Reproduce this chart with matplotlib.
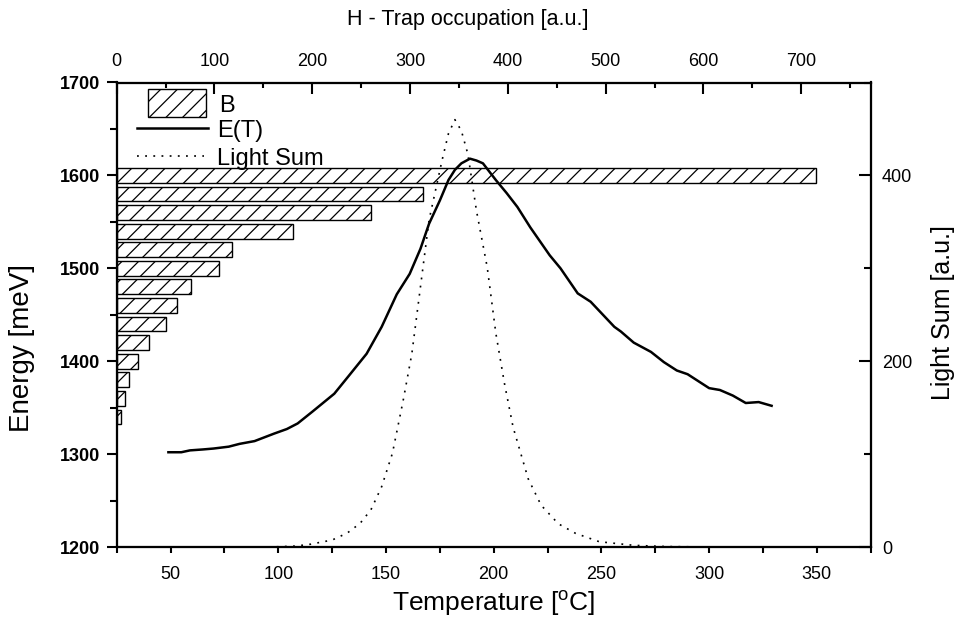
import matplotlib
matplotlib.use('Agg')
import matplotlib.pyplot as plt
from matplotlib.ticker import MultipleLocator
from matplotlib.patches import Rectangle
from matplotlib.lines import Line2D
from matplotlib import font_manager

plt.rcParams['font.family'] = ['Liberation Sans', 'DejaVu Sans']
plt.rcParams['mathtext.fontset'] = 'custom'
plt.rcParams['mathtext.rm'] = 'Liberation Sans'
plt.rcParams['mathtext.it'] = 'Liberation Sans'
plt.rcParams['hatch.linewidth'] = 0.9

# ---------------- data ----------------
energy_levels = [1600, 1580, 1560, 1540, 1520, 1500, 1480, 1460, 1440, 1420, 1400, 1380, 1360, 1340]
trap_occupation = [715, 313, 260, 180, 118, 105, 76, 62, 50, 33, 22, 12.6, 8.2, 4.4]

et_temp = [49, 55, 59, 65, 70, 77, 82, 89, 98, 104, 109, 116, 126, 133, 141, 148, 155, 161, 166,
           170, 175, 179, 182, 185, 189, 192, 195, 201, 206, 211, 217, 226, 231, 239, 245, 256, 259,
           265, 273, 279, 285, 290, 294, 300, 305, 311, 317, 323, 329]
et_energy = [1302, 1302, 1304, 1305, 1306, 1308, 1311, 1314, 1322, 1327, 1333, 1346, 1365, 1385, 1408,
             1437, 1472, 1494, 1521, 1548, 1573, 1595, 1606, 1613, 1618, 1616, 1613, 1595, 1581,
             1566, 1544, 1514, 1500, 1473, 1464, 1437, 1432, 1420, 1410, 1399, 1390, 1386, 1380,
             1371, 1369, 1363, 1355, 1356, 1352]

ls_temp = [50, 90, 100, 108, 115, 125, 132, 138, 143, 148, 153, 158, 162, 166, 170, 176, 179, 182,
           185, 188, 192, 197, 201, 205, 209, 216, 222, 230, 238, 249, 265, 280, 300, 325]
ls_value = [0, 0, 0.3, 1, 3, 7.5, 15, 25.5, 40, 65, 101, 158, 208, 280, 352, 416, 445, 460,
            448, 423, 362, 301, 230, 176, 129, 73.5, 45, 25, 14.7, 5.7, 1.8, 0.5, 0, 0]

bottom_label = 'Temperature [$^{\\mathrm{o}}$C]'
left_label = 'Energy [meV]'
right_label = 'Light Sum [a.u.]'
top_label = 'H - Trap occupation [a.u.]'
legend_labels = ['B', 'E(T)', 'Light Sum']

# ---------------- figure ----------------
W_PX, H_PX = 955, 622
fig = plt.figure(figsize=(W_PX / 100, H_PX / 100), dpi=100)
x0, x1, y0, y1 = 116.7, 870.7, 82.5, 547.0
ax = fig.add_axes([x0 / W_PX, 1 - y1 / H_PX, (x1 - x0) / W_PX, (y1 - y0) / H_PX])
ax_bar = ax.twiny()
ax_ls = ax.twinx()

ax_bar.set_zorder(1)
ax.set_zorder(2)
ax_ls.set_zorder(3)
ax.patch.set_visible(False)
ax_ls.patch.set_visible(False)
ax_bar.patch.set_visible(True)
ax_bar.patch.set_facecolor('white')

# bars (top axis)
ax_bar.barh(energy_levels, trap_occupation, height=16, facecolor='white', edgecolor='black',
            linewidth=1.0, hatch='//', align='center')
ax_bar.set_xlim(0, 771)

# E(T)
ax.plot(et_temp, et_energy, color='black', lw=1.8, solid_joinstyle='round')
ax.set_xlim(25, 375)
ax.set_ylim(1200, 1700)

# Light sum
ax_ls.plot(ls_temp, ls_value, color='black', lw=1.2, linestyle=(0, (1.1, 3.8)))
ax_ls.set_ylim(0, 500)

# ---------------- ticks ----------------
ax.set_xticks([50, 100, 150, 200, 250, 300, 350])
ax.xaxis.set_minor_locator(MultipleLocator(25))
ax.set_yticks([1200, 1300, 1400, 1500, 1600, 1700])
ax.yaxis.set_minor_locator(MultipleLocator(50))
ax.tick_params(axis='x', which='both', direction='out', length=4.5, width=1.5, labelsize=13, pad=9)
ax.tick_params(axis='y', which='major', direction='out', length=7, width=1.5, labelsize=13, pad=5)
ax.tick_params(axis='y', which='minor', direction='out', length=5, width=1.5)
for lbl in ax.get_yticklabels():
    lbl.set_fontweight('bold')

ax_bar.set_xticks([0, 100, 200, 300, 400, 500, 600, 700])
ax_bar.xaxis.set_minor_locator(MultipleLocator(50))
ax_bar.tick_params(axis='x', which='major', direction='in', length=7.7, width=1.5, labelsize=13, pad=9)
ax_bar.tick_params(axis='x', which='minor', direction='in', length=3.8, width=1.5)

ax_ls.set_yticks([0, 200, 400])
ax_ls.yaxis.set_minor_locator(MultipleLocator(100))
ax_ls.tick_params(axis='y', which='major', direction='in', length=8.5, width=1.5, labelsize=13, pad=8)
ax_ls.tick_params(axis='y', which='minor', direction='in', length=5, width=1.5)

for a in (ax, ax_bar, ax_ls):
    for s in a.spines.values():
        s.set_linewidth(1.5)

# ---------------- labels ----------------
names = {f.name for f in font_manager.fontManager.ttflist}
if 'Liberation Sans Narrow' in names:
    top_font, top_size = ['Liberation Sans Narrow', 'DejaVu Sans'], 17.5
else:
    top_font, top_size = ['Liberation Sans', 'DejaVu Sans'], 15.5

fig.text(468 / W_PX, 1 - 20 / H_PX, top_label, ha='center', va='center',
         fontsize=top_size, family=top_font)
fig.text(494 / W_PX, 1 - 604 / H_PX, bottom_label, ha='center', va='center', fontsize=19)
fig.text(22 / W_PX, 1 - 348 / H_PX, left_label, ha='center', va='center', rotation=90, fontsize=20)
fig.text(943 / W_PX, 1 - 313 / H_PX, right_label, ha='center', va='center', rotation=90, fontsize=18)

# ---------------- legend (manual) ----------------
def axx(px):
    return (px - x0) / (x1 - x0)

def axy(py):
    return (y1 - py) / (y1 - y0)

ax_ls.add_patch(Rectangle((axx(148), axy(117)), axx(205.7) - axx(148), axy(89) - axy(117),
                          transform=ax_ls.transAxes, facecolor='white', edgecolor='black',
                          lw=1.0, hatch='//', clip_on=False))
ax_ls.add_line(Line2D([axx(137), axx(208)], [axy(127.7), axy(127.7)], transform=ax_ls.transAxes,
                      color='black', lw=1.8))
ax_ls.add_line(Line2D([axx(137), axx(204)], [axy(155.7), axy(155.7)], transform=ax_ls.transAxes,
                      color='black', lw=1.2, linestyle=(0, (1.1, 3.8))))
ax_ls.text(axx(219), axy(112.3), legend_labels[0], transform=ax_ls.transAxes, fontsize=17,
           va='baseline', ha='left')
ax_ls.text(axx(217), axy(137.5), legend_labels[1], transform=ax_ls.transAxes, fontsize=17,
           va='baseline', ha='left')
ax_ls.text(axx(217), axy(165), legend_labels[2], transform=ax_ls.transAxes, fontsize=17,
           va='baseline', ha='left')

fig.savefig('out.png', dpi=100, facecolor='white')
